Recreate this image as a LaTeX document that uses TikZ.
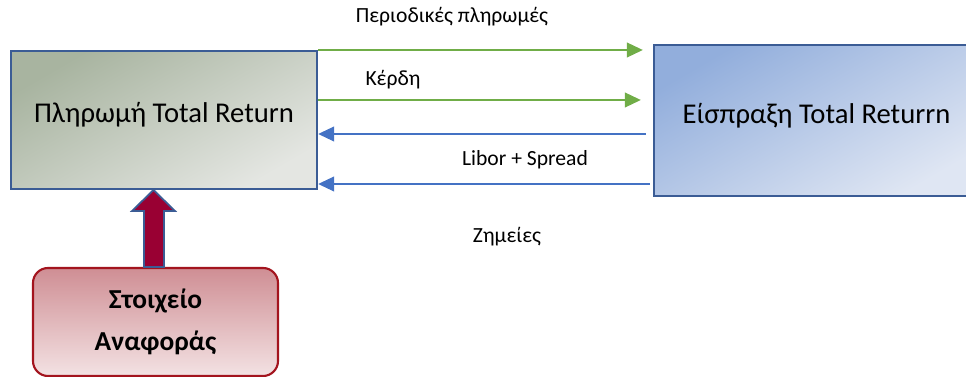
\documentclass[tikz,border=0pt]{standalone}
\usepackage{fontspec}
\setmainfont{Carlito}
\usepackage{tikz}
\usetikzlibrary{arrows.meta,positioning,calc}
\usepackage{xcolor}
\definecolor{boxline}{HTML}{3B5C95}
\definecolor{greyA}{HTML}{A8B4A0}
\definecolor{greyB}{HTML}{E4E6E2}
\definecolor{blueA}{HTML}{92AEDC}
\definecolor{blueB}{HTML}{DFE6F3}
\definecolor{pinkA}{HTML}{CF8E94}
\definecolor{pinkB}{HTML}{F3E2E3}
\definecolor{refline}{HTML}{A3141E}
\definecolor{payline}{HTML}{70AD47}
\definecolor{recline}{HTML}{4472C4}
\definecolor{bigarrow}{HTML}{990033}

\begin{document}
\begin{tikzpicture}[
    box/.style={
        draw=boxline,
        line width=1.4pt,
        minimum width=6.12cm,
        minimum height=2.76cm,
        font=\fontsize{16.3}{19}\selectfont
    },
    greyshade/.style={top color=greyA, bottom color=greyB, shading angle=30},
    blueshade/.style={top color=blueA, bottom color=blueB, shading angle=30},
    refbox/.style={
        draw=refline,
        line width=1.2pt,
        rounded corners=0.3cm,
        top color=pinkA,
        bottom color=pinkB,
        minimum width=4.9cm,
        minimum height=2.16cm,
        align=center,
        font=\fontsize{15.6}{24}\selectfont\bfseries
    },
    greenarrow/.style={-{Triangle[length=3.2mm,width=3mm]}, payline, line width=0.6pt},
    bluearrow/.style={-{Triangle[length=3.2mm,width=3mm]}, recline, line width=0.6pt},
    mylabel/.style={font=\fontsize{12.3}{14}\selectfont},
    ]
    \useasboundingbox (0,0) rectangle (19.32,7.54);

    \node[box, greyshade] (pay) at (3.28,5.14) {\raisebox{0.3cm}{Πληρωμή Total Return}};
    \node[box, blueshade, minimum width=6.5cm, minimum height=3.02cm] (rec) at (16.33,5.13) {\raisebox{0.3cm}{Είσπραξη Total Returrn}};
    \node[refbox] (ref) at (3.11,1.1) {Στοιχείο\\Αναφοράς};

    % flows between the two sides
    \draw[greenarrow] (pay.east |- 0,6.54) -- ($(rec.west |- 0,6.54)+(-0.2,0)$);
    \draw[greenarrow] (pay.east |- 0,5.54) -- ($(rec.west |- 0,5.54)+(-0.24,0)$);
    \draw[bluearrow] ($(rec.west |- 0,4.86)+(-0.14,0)$) -- (pay.east |- 0,4.86);
    \draw[bluearrow] ($(rec.west |- 0,3.86)+(-0.06,0)$) -- (pay.east |- 0,3.86);

    \node[mylabel] (periodic) at (9.04,7.2) {Περιοδικές πληρωμές};
    \node[mylabel] (gains) at (7.86,5.94) {Κέρδη};
    \node[mylabel] (libor) at (10.5,4.34) {Libor + Spread};
    \node[mylabel] (losses) at (10.14,2.8) {Ζημείες};

    % reference asset feeds the payer
    \draw[draw=boxline, fill=bigarrow, line width=1pt]
        (3.07,3.74) -- (3.5,3.32) -- (3.28,3.32) -- (3.28,2.2) -- (2.88,2.2)
        -- (2.88,3.32) -- (2.64,3.32) -- cycle;
\end{tikzpicture}
\end{document}
